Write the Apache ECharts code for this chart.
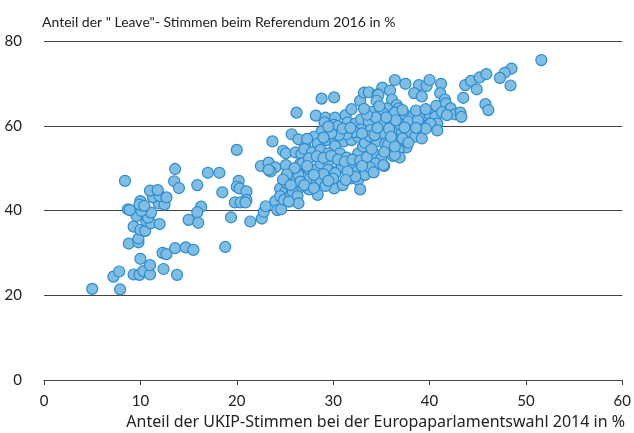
<!DOCTYPE html>
<html>
<head>
<meta charset="utf-8">
<script src="https://cdn.jsdelivr.net/npm/echarts@6/dist/echarts.min.js"></script>
<style>html,body{margin:0;padding:0;background:#fff;}#c{width:634px;height:433px;}</style>
</head>
<body>
<div id="c"></div>
<script>
const yTitle = 'Anteil der " Leave"- Stimmen beim Referendum 2016 in %';
const xTitle = 'Anteil der UKIP-Stimmen bei der Europaparlamentswahl 2014 in %';
const xTicks = [0, 10, 20, 30, 40, 50, 60];
const yTicks = [0, 20, 40, 60, 80];

const ukip = [
5.0,7.9,7.2,7.8,9.3,9.9,10.3,11.0,13.8,12.4,11.0,10.0,12.3,12.7,13.6,14.7,15.5,8.8,9.8,9.8,
9.3,10.0,10.5,10.6,11.1,12.0,10.8,9.6,11.1,10.1,8.7,8.9,10.0,9.9,10.4,11.9,12.5,11.3,12.0,12.7,
11.0,11.8,8.4,13.6,13.5,14.0,15.9,17.0,18.2,16.3,15.9,15.0,16.0,18.8,20.0,23.7,25.7,26.4,27.1,24.8,
25.1,26.1,26.7,22.5,23.3,24.0,23.5,25.1,26.6,26.4,26.2,26.7,20.2,20.0,20.3,21.0,18.5,21.0,19.8,20.4,
20.9,19.4,21.4,22.6,22.8,23.0,24.0,24.2,24.6,24.5,25.0,25.2,24.5,24.9,25.6,25.8,26.3,26.4,25.4,26.2,
28.8,30.1,28.2,29.2,30.2,31.3,31.9,32.8,33.2,33.7,29.1,30.1,30.5,31.5,32.3,32.9,32.9,28.8,28.0,27.3,
28.4,29.3,30.2,31.1,31.9,32.6,27.0,27.8,28.7,30.2,29.5,30.7,31.4,32.6,33.1,23.3,26.8,27.5,28.1,28.7,
29.5,29.5,30.3,30.9,31.9,32.5,33.3,26.4,27.6,26.6,28.3,31.9,32.6,30.1,32.8,27.5,28.4,35.1,35.9,36.4,
34.6,37.5,38.9,39.7,40.0,41.2,38.4,39.2,41.1,41.6,40.7,41.7,42.2,42.6,43.2,43.5,43.7,44.3,44.9,34.7,
34.5,36.1,36.6,36.8,35.6,34.0,35.2,36.4,37.5,38.3,39.2,40.0,40.6,40.8,40.1,39.0,38.1,36.9,35.8,34.9,
33.7,33.9,35.0,36.1,37.1,38.0,39.0,38.5,40.8,33.3,34.5,35.4,36.4,37.6,36.8,35.7,34.2,36.2,36.9,35.0,
34.4,35.3,33.3,45.2,45.9,45.8,46.1,43.3,51.6,48.5,47.8,47.3,48.4,28.7,30.2,32.3,35.2,35.7,36.4,36.4,
27.5,28.3,29.0,29.8,30.5,31.2,32.0,32.8,33.5,34.0,33.8,32.2,31.4,30.6,29.8,29.0,31.0,31.8,33.0,34.3,
34.6,35.8,36.5,37.8,38.8,37.2,37.8,39.2,39.6,38.6,37.4,35.5,34.4,33.5,34.8,33.2,37.2,38.6,39.6,41.3,
41.8,36.0,35.3,33.8,34.2,33.0,31.5,30.0,29.0,28.0,27.3,26.0,25.2,24.8,25.6,27.0,28.0,29.2,31.0,31.3,
29.5,29.5
];
const leave = [
21.5,21.4,24.4,25.6,24.9,24.8,25.7,24.9,24.8,26.2,27.1,28.6,30.0,29.7,31.1,31.3,30.7,32.2,32.5,33.4,
36.2,35.4,35.2,37.5,37.0,36.8,38.3,38.7,39.5,39.9,40.3,40.1,42.2,41.4,41.1,41.7,41.4,43.1,43.4,43.1,
44.7,44.8,47.0,49.8,46.9,45.3,46.0,48.9,48.9,40.9,39.6,37.8,37.1,31.4,54.3,56.3,58.0,56.8,55.1,54.1,
53.5,53.7,53.3,50.5,51.3,50.2,49.2,50.7,51.1,48.8,47.6,45.6,47.0,45.6,45.2,44.5,44.3,42.5,41.9,41.9,
41.9,38.4,37.4,38.1,39.7,41.0,42.2,40.1,40.3,45.2,44.3,46.4,43.4,42.5,43.7,44.5,43.4,41.7,42.1,63.1,
66.4,66.7,62.4,61.9,61.9,62.5,63.9,65.9,67.8,67.9,60.8,60.2,59.9,60.8,60.5,61.5,59.1,58.6,57.4,56.9,
55.8,56.6,56.5,56.3,56.6,57.4,54.5,53.7,54.3,55.2,53.5,53.5,52.5,53.5,55.1,49.6,51.1,49.7,49.6,51.1,
51.5,49.6,49.2,50.4,50.7,49.2,48.8,48.4,47.6,46.8,46.4,47.6,47.2,45.2,45.0,45.0,43.7,69.0,68.3,70.8,
67.4,69.9,69.6,69.4,70.8,69.9,67.7,66.9,67.7,66.2,64.7,65.3,64.1,62.7,63.1,66.6,69.6,70.6,68.6,67.3,
65.9,66.2,64.9,64.1,64.1,63.3,62.9,63.1,62.5,62.3,62.1,62.7,62.1,60.5,60.5,60.5,60.4,59.9,60.5,60.5,
61.0,59.0,58.1,58.6,58.2,58.1,58.8,57.4,58.9,56.0,56.3,55.7,56.8,54.9,54.3,54.3,53.5,52.9,52.5,52.3,
51.1,50.5,48.4,71.4,72.2,65.1,63.7,62.1,75.5,73.5,72.5,71.3,69.5,47.2,48.8,48.0,50.7,55.5,53.1,55.1,
52.3,52.8,52.4,52.9,52.0,51.5,52.0,51.8,52.6,54.5,57.5,58.5,58.0,57.8,58.2,57.2,59.3,59.5,58.2,57.8,
59.5,59.3,61.3,61.0,61.3,57.0,56.0,57.0,59.3,59.5,59.6,62.0,62.0,62.6,64.6,64.0,63.7,63.6,63.9,63.2,
62.5,57.4,53.8,50.2,49.0,50.5,49.2,47.5,48.6,48.4,50.5,50.0,48.5,47.3,46.0,46.0,45.3,45.8,46.0,47.2,
47.0,59.8
];

const points = ukip.map((x, i) => [x, leave[i]]);
const font = 'Lato, "Noto Sans", sans-serif';
const font2 = '"Noto Sans", Lato, sans-serif';

const chart = echarts.init(document.getElementById('c'), null, {renderer: 'canvas'});
chart.setOption({
  animation: false,
  backgroundColor: '#fff',
  title: [
    {text: yTitle, left: 37, top: 10, textStyle: {fontFamily: font, fontSize: 14, fontWeight: 'normal', color: '#222'}},
    {text: xTitle, right: 4, top: 409, textStyle: {fontFamily: font2, fontSize: 16, fontWeight: 'normal', color: '#222'}}
  ],
  grid: {left: 44, right: 9, top: 41, bottom: 53, containLabel: false},
  xAxis: {
    type: 'value', min: xTicks[0], max: xTicks[xTicks.length - 1], interval: 10,
    axisLine: {show: true, lineStyle: {color: '#444', width: 1}},
    axisTick: {show: true, length: 5, lineStyle: {color: '#444'}},
    axisLabel: {fontFamily: font, fontSize: 15, color: '#222', margin: 14},
    splitLine: {show: false}
  },
  yAxis: {
    type: 'value', min: yTicks[0], max: yTicks[yTicks.length - 1], interval: 20,
    axisLine: {show: false}, axisTick: {show: false},
    axisLabel: {fontFamily: font, fontSize: 15, color: '#222', margin: 22},
    splitLine: {show: true, lineStyle: {color: '#444', width: 1}}
  },
  series: [{
    type: 'scatter',
    data: points,
    symbolSize: 11,
    itemStyle: {color: '#80bde3', borderColor: '#2a8bcf', borderWidth: 1.2, opacity: 1}
  }]
});
</script>
</body>
</html>
